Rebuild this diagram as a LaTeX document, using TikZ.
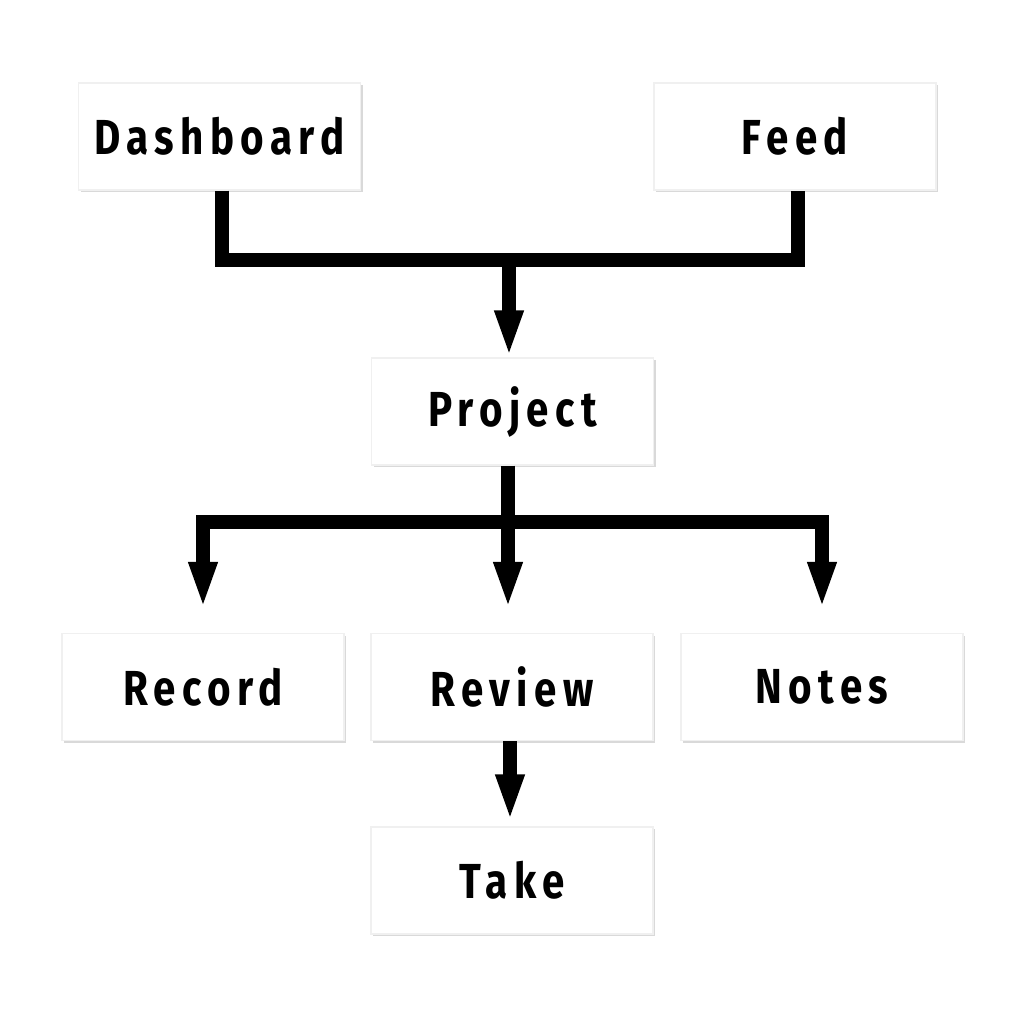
\documentclass[tikz,border=0pt]{standalone}
\usepackage{fontspec}
\usepackage{tikz}
\usetikzlibrary{arrows.meta,shadows}

\newfontfamily\boxfont[FakeStretch=0.82,LetterSpace=13]{Fira Sans}

\tikzset{
  boxnode/.style={fill=white, draw=black!6, minimum width=2.82cm, minimum height=1.07cm,
    font=\boxfont\bfseries\fontsize{14}{16}\selectfont,
    drop shadow={shadow xshift=0.02cm, shadow yshift=-0.025cm, opacity=0.3}},
  bar/.style={line width=0.14cm, line join=miter},
  arr/.style={bar, -{Triangle[length=0.47cm, width=0.26cm]}}
}

\begin{document}
\begin{tikzpicture}

\useasboundingbox (0,0) rectangle (10.24,10.24);

\node[boxnode] (dash) at (2.195,8.875) {Dashboard};

\node[boxnode] (feed) at (7.95,8.875) {Feed};

\node[boxnode] (proj) at (5.125,6.125) {Project};

\node[boxnode] (rec) at (2.03,3.37) {Record};
\node[boxnode] (rev) at (5.12,3.37) {Review};
\node[boxnode] (notes) at (8.22,3.37) {Notes};

\node[boxnode] (take) at (5.12,1.435) {Take};

% upper bar
\coordinate (top) at (5.09,7.64);
\draw[bar] ([xshift=0.025cm]dash.south) |- (top) -| ([xshift=0.03cm]feed.south);
\draw[arr] (top) -- (top |- proj.north);

% lower bar
\coordinate (low) at (5.08,5.02);
\draw[bar] (proj.south -| low) -- (low);
\draw[bar, line cap=rect] (low -| rec) -- (low -| notes);
\draw[arr, shorten >=0.24cm] (low -| rec) -- (rec.north);
\draw[arr, shorten >=0.24cm] (low) -- (low |- rev.north);
\draw[arr, shorten >=0.24cm] (low -| notes) -- (notes.north);

\draw[arr, shorten >=0.05cm] ([xshift=-0.02cm]rev.south) -- ([xshift=-0.02cm]take.north);

\end{tikzpicture}
\end{document}
